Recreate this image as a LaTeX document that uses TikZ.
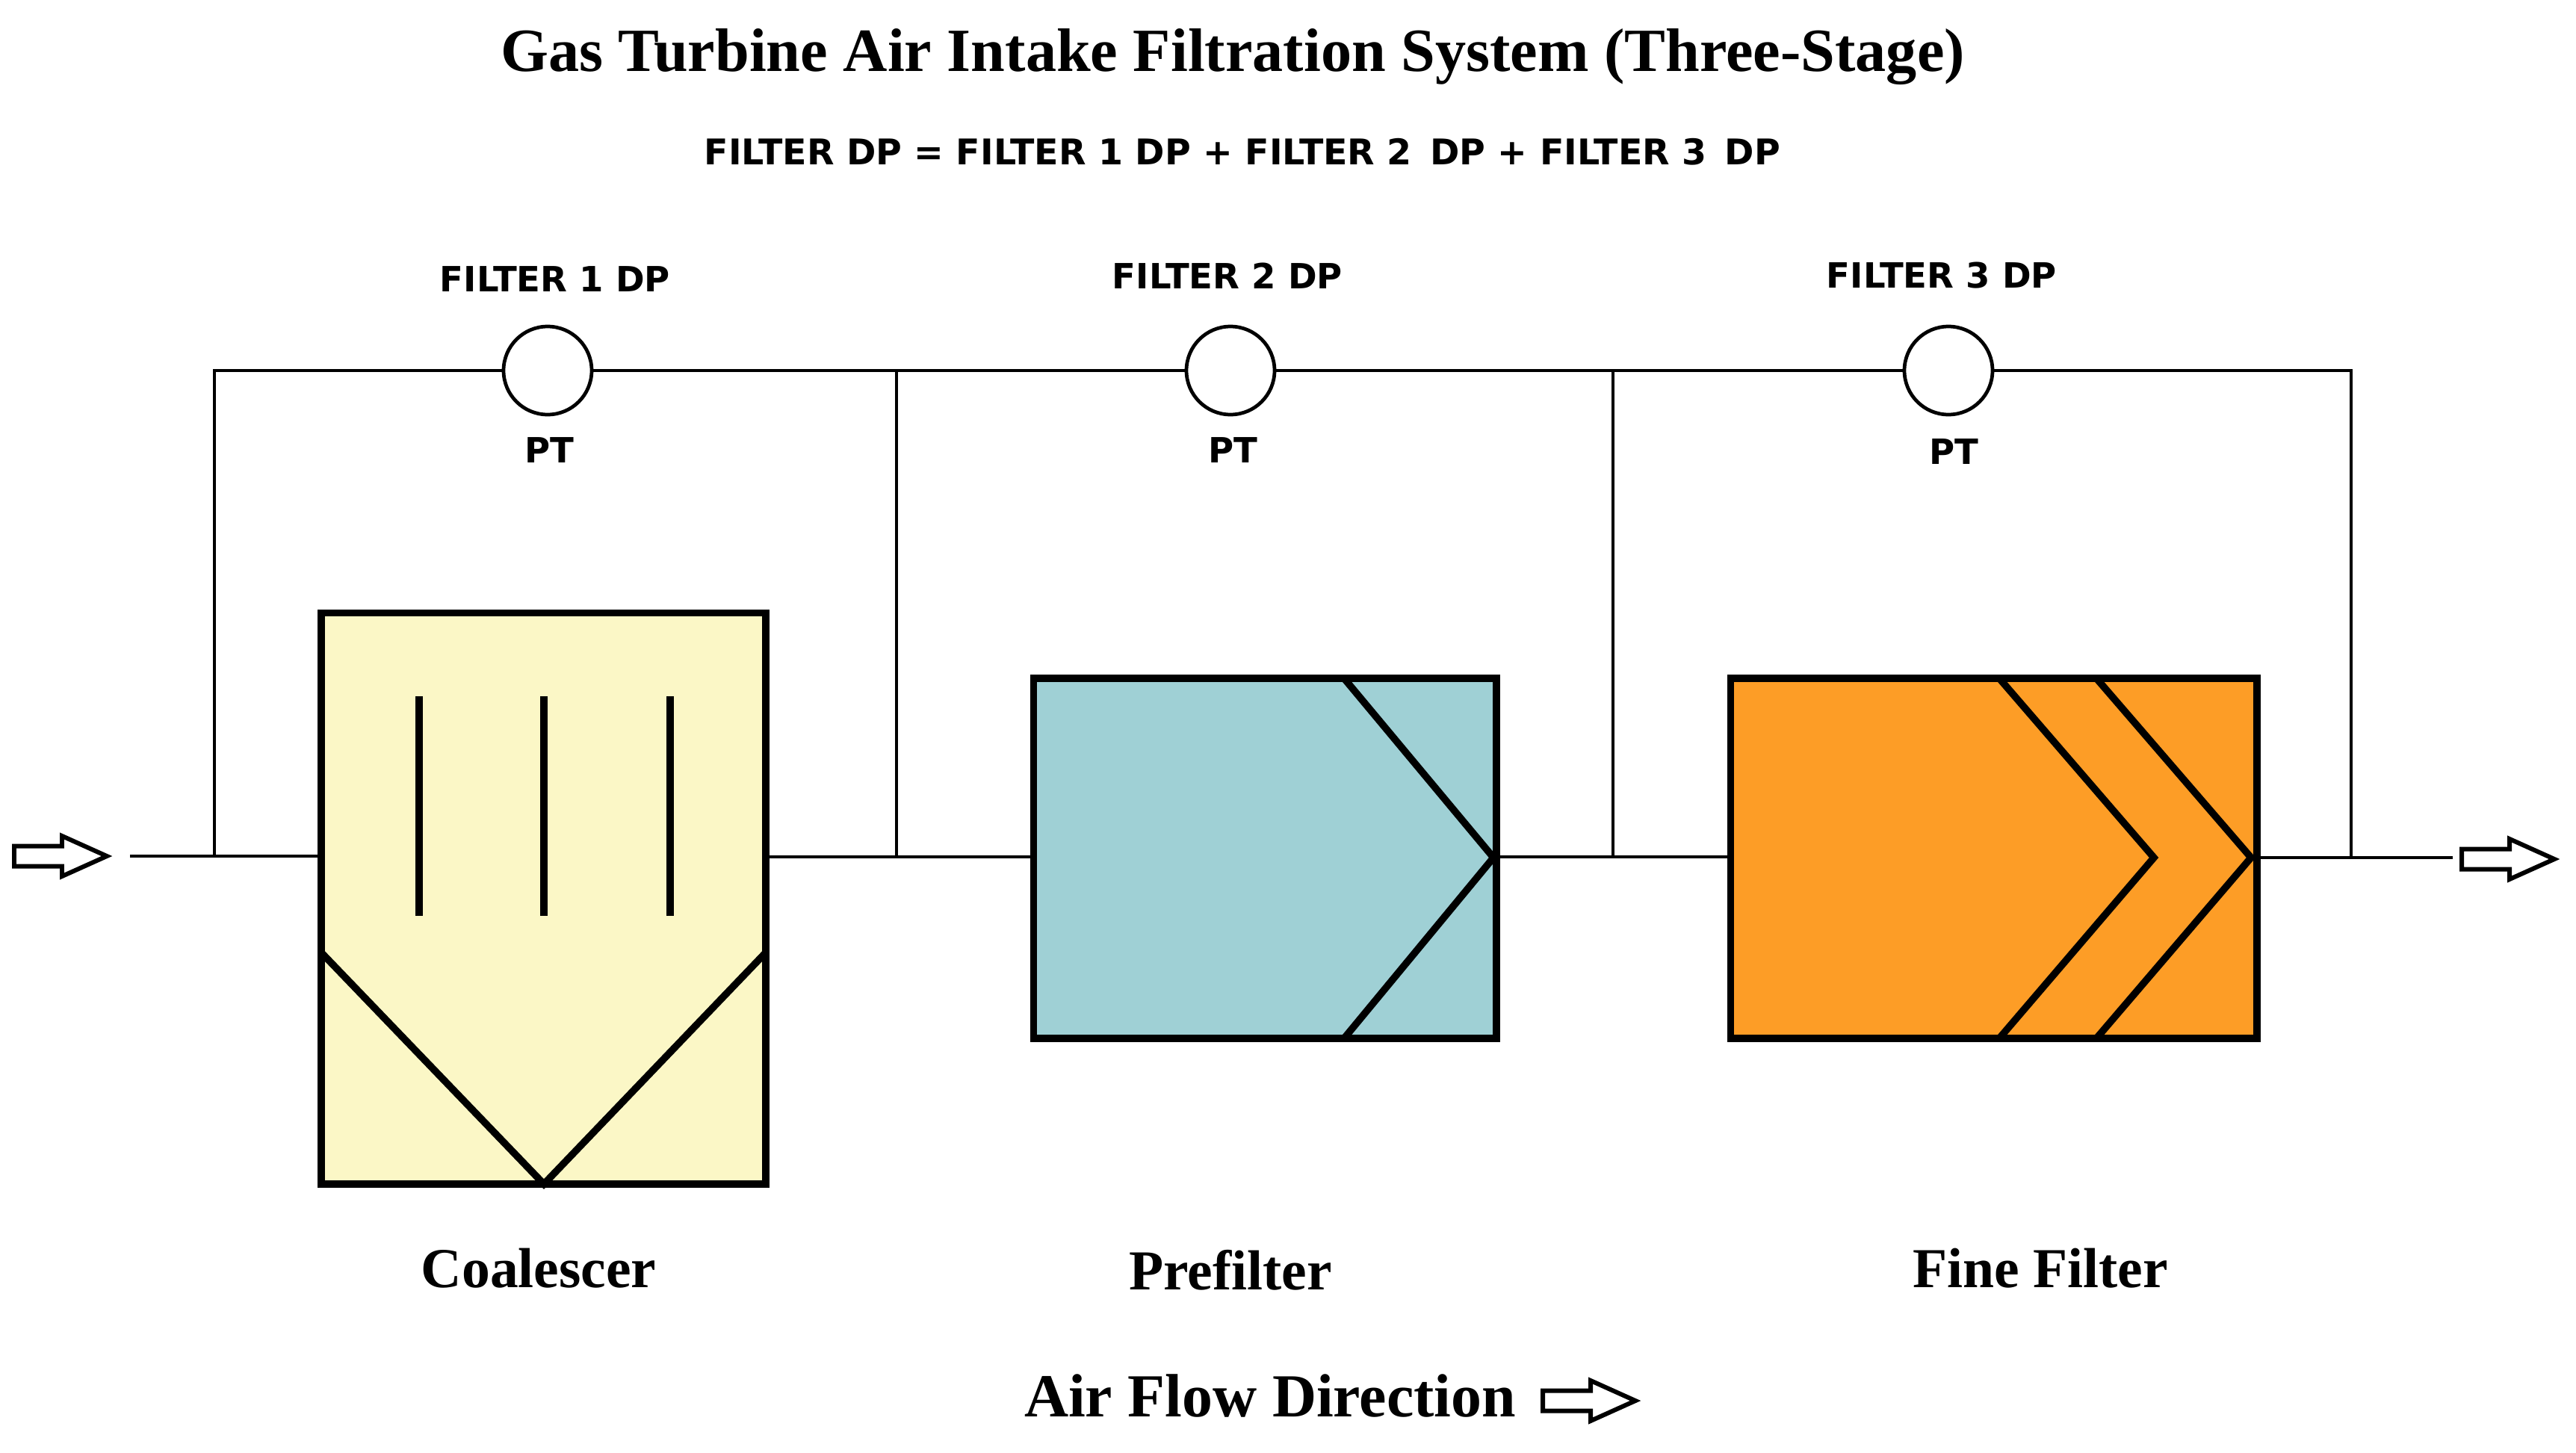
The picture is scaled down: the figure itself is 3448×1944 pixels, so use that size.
\documentclass[tikz,border=0pt]{standalone}
\usepackage{fontspec}
\setmainfont{Liberation Serif}
\newfontfamily\lblfont{DejaVu Sans}
\definecolor{coalfill}{HTML}{FBF7C6}
\definecolor{prefill}{HTML}{9FD0D5}
\definecolor{finefill}{HTML}{FD9D26}
\tikzset{
  x=0.02cm,y=-0.02cm,
  pipe/.style={line width=2.7pt,black},
  edge/.style={line width=5.4pt,black,line join=miter},
  vessel/.style={draw=black,line width=5.2pt,rectangle,inner sep=0pt,outer sep=0pt},
  xmtr/.style={draw=black,line width=2.7pt,circle,fill=white,minimum size=2.36cm,inner sep=0pt,outer sep=0pt},
  blockarrow/.pic={\draw[black,line width=3.4pt,fill=white,miter limit=10]
    (-63,-13.5) -- (1,-13.5) -- (1,-27) -- (61,0) -- (1,27) -- (1,13.5) -- (-63,13.5) -- cycle;},
  titlefont/.style={font=\bfseries\fontsize{46.8}{52}\selectfont,inner sep=0pt},
  capfont/.style={font=\bfseries\fontsize{43}{48}\selectfont,inner sep=0pt},
  legendfont/.style={font=\bfseries\fontsize{46.6}{52}\selectfont,inner sep=0pt},
  tagfont/.style={font=\lblfont\bfseries\fontsize{26.5}{30}\selectfont,inner sep=0pt},
  eqfont/.style={font=\lblfont\bfseries\fontsize{27}{32}\selectfont,inner sep=0pt},
}
\begin{document}
\begin{tikzpicture}
\useasboundingbox (0,0) rectangle (3448,1944);
\fill[white] (0,0) rectangle (3448,1944);
% vessels
\node[vessel,fill=coalfill,minimum width=11.9cm,minimum height=15.3cm] (coal) at (727.5,1202.5) {};
\node[vessel,fill=prefill,minimum width=12.4cm,minimum height=9.64cm] (pre) at (1693,1149) {};
\node[vessel,fill=finefill,minimum width=14.1cm,minimum height=9.64cm] (fine) at (2668.5,1149) {};
% vessel internals
\draw[edge,line cap=butt] (561,932) -- (561,1226) (728,932) -- (728,1226) (897,932) -- (897,1226);
\draw[edge] (430,1275) -- (728,1585) -- (1025,1275);
\draw[edge] (1799,908) -- (1999,1148) -- (1799,1390);
\draw[edge] (2676,908) -- (2883,1148) -- (2676,1390);
\draw[edge] (2806,908) -- (3013,1148) -- (2806,1390);
% transmitters
\node[xmtr] (c1) at (733,496) {};
\node[xmtr] (c2) at (1647,496) {};
\node[xmtr] (c3) at (2608,496) {};
% flow arrows
\pic at (82,1146) {blockarrow};
\pic at (3358,1150) {blockarrow};
\pic at (2128,1875) {blockarrow};
% junctions and free ends
\coordinate (start) at (174,1146);
\coordinate (ja) at (287,1146);
\coordinate (jb) at (1200,1147);
\coordinate (jc) at (2159,1147);
\coordinate (jd) at (3147,1148);
\coordinate (stop) at (3283,1148);
% main line
\draw[pipe] (start) -- (ja) -- (ja -| coal.west);
\draw[pipe] (jb -| coal.east) -- (jb) -- (jb -| pre.west);
\draw[pipe] (jc -| pre.east) -- (jc) -- (jc -| fine.west);
\draw[pipe] (jd -| fine.east) -- (jd) -- (stop);
% impulse lines
\draw[pipe] (ja) |- (c1.west);
\draw[pipe] (c1.east) -- (c2.west);
\draw[pipe] (c2.east) -- (c3.west);
\draw[pipe] (c3.east) -| (jd);
\draw[pipe] (jb) -- (jb |- c1.west);
\draw[pipe] (jc) -- (jc |- c1.west);
% text
\node[titlefont] (title) at (1650,76) {Gas Turbine Air Intake Filtration System (Three-Stage)};
\node[eqfont] (eq) at (1663,203) {FILTER DP = FILTER 1 DP + FILTER 2\, DP + FILTER 3\, DP};
\node[tagfont] (t1) at (743,374) {FILTER 1 DP};
\node[tagfont] (t2) at (1643,369) {FILTER 2 DP};
\node[tagfont] (t3) at (2599,369) {FILTER 3 DP};
\node[tagfont] (p1) at (735,603) {PT};
\node[tagfont] (p2) at (1650,603) {PT};
\node[tagfont] (p3) at (2615,605) {PT};
\node[capfont] (l1) at (721,1698) {Coalescer};
\node[capfont] (l2) at (1647,1700) {Prefilter};
\node[capfont] (l3) at (2731,1698) {Fine Filter};
\node[legendfont] (legend) at (1700,1868) {Air Flow Direction};
\end{tikzpicture}
\end{document}
